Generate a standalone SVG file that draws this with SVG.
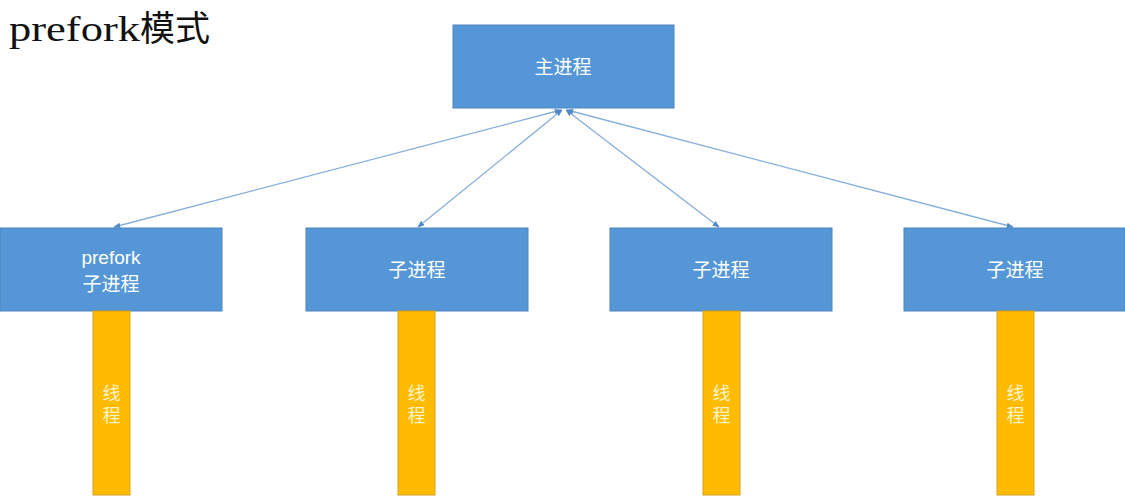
<svg xmlns="http://www.w3.org/2000/svg" width="1125" height="504" viewBox="0 0 1125 504">
<style>
.proc{fill:#5597d6;stroke:#4a86c0;stroke-width:1}
.thread{fill:#ffbb00;stroke:#d9a21a;stroke-width:1}
.lbl{font-family:"Noto Sans CJK SC","Noto Sans",sans-serif;font-size:19px;fill:#ffffff;text-anchor:middle}
.lat{font-family:"Liberation Sans",sans-serif;font-size:19px;fill:#ffffff;text-anchor:middle}
.tl{font-family:"Noto Sans CJK SC",sans-serif;font-size:18px;fill:#fff3c8;text-anchor:middle;writing-mode:vertical-rl;letter-spacing:4px}
.conn{stroke:#86aedb;stroke-width:1.3;fill:none;marker-start:url(#ah);marker-end:url(#ah)}
</style>
<defs>
<marker id="ah" viewBox="0 0 10 10" refX="9" refY="5" markerWidth="7" markerHeight="7" orient="auto-start-reverse" markerUnits="userSpaceOnUse">
<path d="M0,1 L10,5 L0,9 Z" fill="#4f88c6"/>
</marker>
</defs>
<rect width="1125" height="504" fill="#ffffff"/>
<text x="9" y="41" font-family="'Liberation Serif',serif" font-size="36" fill="#111"><tspan textLength="131" lengthAdjust="spacingAndGlyphs">prefork</tspan><tspan font-family="'Noto Sans CJK SC',sans-serif" font-size="35">模式</tspan></text>
<g id="connectors">
<line class="conn" x1="561" y1="110" x2="114" y2="227"/>
<line class="conn" x1="562" y1="110" x2="418" y2="227"/>
<line class="conn" x1="566" y1="110" x2="719" y2="227"/>
<line class="conn" x1="567" y1="110" x2="1013" y2="227"/>
</g>
<g id="main">
<rect class="proc" x="453" y="25" width="221" height="83"/>
<text class="lbl" x="563" y="74">主进程</text>
</g>
<g id="child1">
<rect class="proc" x="0" y="228" width="222" height="83"/>
<text class="lat" x="111" y="264">prefork</text>
<text class="lbl" x="111" y="291">子进程</text>
</g>
<g id="child2">
<rect class="proc" x="306" y="228" width="222" height="83"/>
<text class="lbl" x="417" y="277">子进程</text>
</g>
<g id="child3">
<rect class="proc" x="610" y="228" width="222" height="83"/>
<text class="lbl" x="721" y="277">子进程</text>
</g>
<g id="child4">
<rect class="proc" x="904" y="228" width="221" height="83"/>
<text class="lbl" x="1015" y="277">子进程</text>
</g>
<g id="thread1">
<rect class="thread" x="93" y="311" width="37" height="184"/>
<text class="tl" x="111.5" y="406">线程</text>
</g>
<g id="thread2">
<rect class="thread" x="398" y="311" width="37" height="184"/>
<text class="tl" x="416.5" y="406">线程</text>
</g>
<g id="thread3">
<rect class="thread" x="703" y="311" width="37" height="184"/>
<text class="tl" x="721.5" y="406">线程</text>
</g>
<g id="thread4">
<rect class="thread" x="997" y="311" width="37" height="184"/>
<text class="tl" x="1015.5" y="406">线程</text>
</g>
</svg>
